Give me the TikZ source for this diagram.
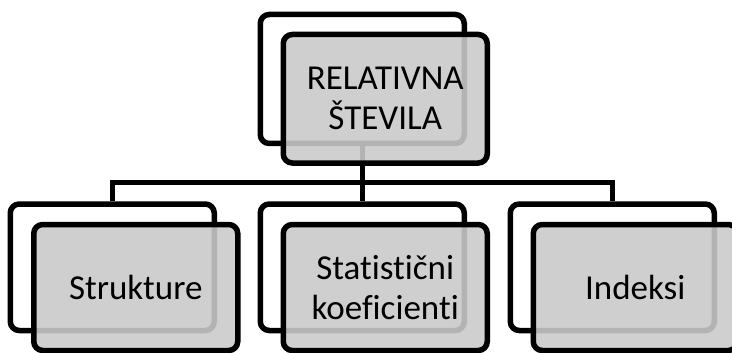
\documentclass[tikz,border=0pt]{standalone}
\usepackage{fontspec}
\setmainfont{Carlito}[Ligatures=NoCommon]
\begin{document}
\begin{tikzpicture}[x=1pt,y=-1pt,
  backbox/.style={draw=black, line width=5.5pt, fill=white, rounded corners=9pt,
    rectangle, inner sep=0pt, minimum width=204pt},
  frontbox/.style={draw=black, line width=5.5pt, rounded corners=9pt, rectangle,
    fill={rgb,255:red,202;green,202;blue,202}, fill opacity=0.89, text opacity=1,
    inner sep=0pt, minimum width=204pt, align=center,
    font=\fontsize{35}{40}\selectfont},
  conn/.style={draw=black, line width=5.5pt}]
  \clip (0,0) rectangle (732,353);

  % back frames
  \node[backbox, minimum height=129pt] (topback) at (362.25,79) {};
  \node[backbox, minimum height=126.5pt] (leftback) at (112.25,267.25) {};
  \node[backbox, minimum height=126.5pt] (midback) at (362.25,267.25) {};
  \node[backbox, minimum height=126.5pt] (rightback) at (612.25,267.25) {};

  % tree connectors
  \coordinate (bar) at (0,182.5);
  \draw[conn] (topback.south) -- (midback.north);
  \draw[conn] (leftback.north) -- (leftback.north |- bar)
    -- (rightback.north |- bar) -- (rightback.north);

  % front boxes with labels
  \node[frontbox, minimum height=128.5pt] (top) at (385.25,98.75) {RELATIVNA\\ŠTEVILA};
  \node[frontbox, minimum height=126pt] (left) at (135.75,287.5) {Strukture};
  \node[frontbox, minimum height=126pt] (mid) at (385.25,287.5) {Statistični\\koeficienti};
  \node[frontbox, minimum height=126pt] (right) at (635.25,287.5) {Indeksi};
\end{tikzpicture}
\end{document}
